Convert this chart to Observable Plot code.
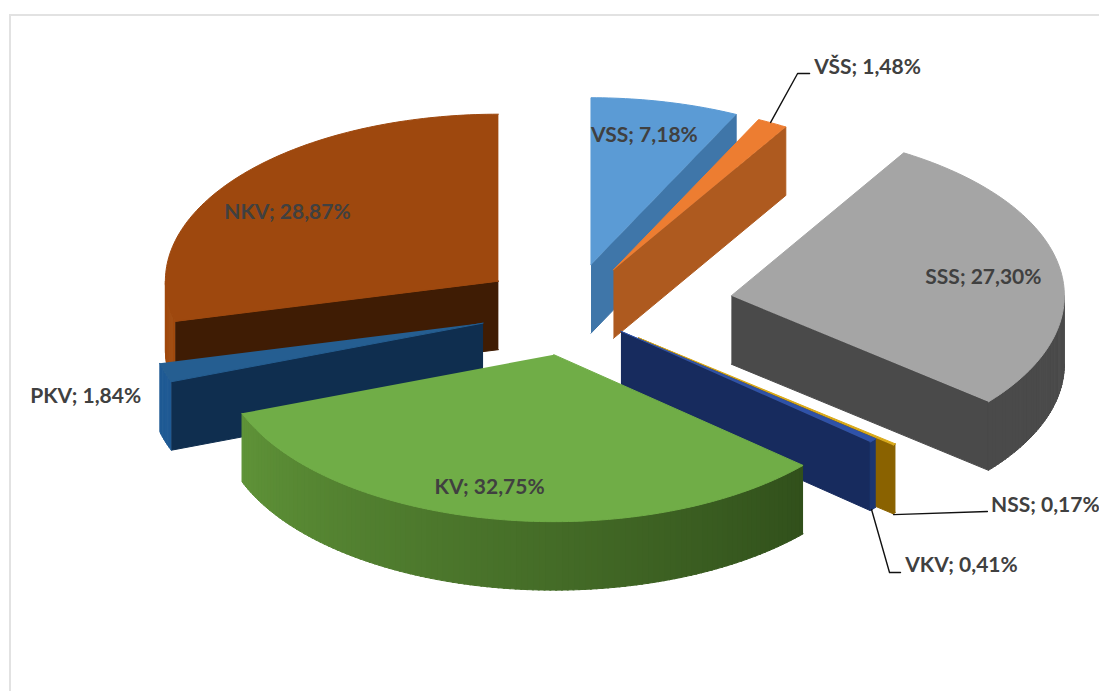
<!DOCTYPE html>
<html><head><meta charset="utf-8">
<script src="https://cdn.jsdelivr.net/npm/d3@7"></script>
<script src="https://cdn.jsdelivr.net/npm/@observablehq/plot@0.6"></script>
<style>
html,body{margin:0;padding:0;background:#fff;overflow:hidden}
#wrap{position:relative;width:1099px;height:691px;overflow:hidden}
#frame{position:absolute;left:9px;top:14px;right:-5px;bottom:-5px;border:2.5px solid #e2e2e2}
#chart{position:absolute;left:0;top:0}
svg{display:block}
</style></head><body>
<div id="wrap"><div id="frame"></div><div id="chart"></div></div>
<script>
// Data (clockwise from 12 o'clock)
const names   = ["VSS","VŠS","SSS","NSS","VKV","KV","PKV","NKV"];
const values  = [7.18,1.48,27.30,0.17,0.41,32.75,1.84,28.87];
// Slice explosion, as a fraction of the pie radius
const explode = [0.275,0.27,0.49,0.265,0.20,0.275,0.275,0.275];
// Colours
const topCol  = ["#5B9BD5","#ED7D31","#A5A5A5","#D8A818","#2F52A8","#70AD47","#255E91","#9E480E"];
const cutCol  = ["#3F76A9","#AE5A1F","#4A4A4A","#8A6200","#172B5E","#3A5A25","#0F2E4F","#3F1C04"];
const rindA   = ["#3F76A9","#ED7D31","#4A4A4A","#8A6200","#1B3672","#31501B","#1F5A94","#A04A0E"];
const rindB   = ["#3F76A9","#ED7D31","#4A4A4A","#8A6200","#1B3672","#5F9338","#1F5A94","#A04A0E"];
// Drawing order, back to front
const paintOrder = ["VSS","VŠS","NKV","SSS","NSS","VKV","PKV","KV"];
// Label anchors in pie-radius units
const labelX = [0.222,0.892,1.240,1.426,1.174,-0.243,-1.456,-0.850];
const labelY = [1.042,1.449,0.192,-1.174,-1.533,-1.066,-0.521,0.581];
// Leader lines in pie-radius units
const leaderName = ["VŠS","VŠS","VŠS","NSS","NSS","VKV","VKV","VKV"];
const leaderX = [0.601,0.682,0.718,0.970,1.252,0.904,0.958,0.991];
const leaderY = [1.120,1.413,1.413,-1.228,-1.210,-1.198,-1.575,-1.575];

const depth = 0.41; // thickness in pie-radius units
const fmt = v => v.toFixed(2).replace(".",",")+"%";
const arcs = d3.pie().sort(null).value(d=>d).startAngle(0).endAngle(2*Math.PI)(values);

const poly=[]; let pid=0;
const addPoly=(pts,c)=>{const id=pid++;pts.forEach(p=>poly.push({id,x:p[0],y:p[1],c}));};

paintOrder.forEach(nm=>{
  const i=names.indexOf(nm), a0=arcs[i].startAngle, a1=arcs[i].endAngle, m=(a0+a1)/2;
  const ox=explode[i]*Math.sin(m), oy=explode[i]*Math.cos(m);
  const P=(a,d=0)=>[ox+Math.sin(a),oy+Math.cos(a)-d];
  const apex=[ox,oy], apexD=[ox,oy-depth];
  // cut faces turned to the viewer
  if(a0>Math.PI) addPoly([apex,P(a0),P(a0,depth),apexD],cutCol[i]);
  if(a1<Math.PI) addPoly([apex,P(a1),P(a1,depth),apexD],cutCol[i]);
  // outer rim: only the part facing the viewer
  const r0=Math.max(a0,Math.PI/2), r1=Math.min(a1,1.5*Math.PI);
  if(r1>r0){
    const n=Math.max(2,Math.ceil((r1-r0)/(Math.PI/180)));
    const col=d3.interpolateRgb(rindA[i],rindB[i]);
    for(let k=0;k<n;k++){
      const u=r0+(r1-r0)*k/n,v=Math.min(r1,r0+(r1-r0)*(k+1.25)/n);
      addPoly([P(u),P(v),P(v,depth),P(u,depth)],d3.rgb(col((k+.5)/n)).formatHex());
    }
  }
  // top face
  const n=Math.max(2,Math.ceil((a1-a0)/(Math.PI/180)));
  const pts=[apex]; for(let k=0;k<=n;k++) pts.push(P(a0+(a1-a0)*k/n));
  addPoly(pts,topCol[i]);
});

const labels=names.map((n,i)=>({t:`${n}; ${fmt(values[i])}`,x:labelX[i],y:labelY[i]}));
const leaders=leaderName.map((n,i)=>({n,x:leaderX[i],y:leaderY[i]}));

const chart=Plot.plot({
  width:1099,height:691,margin:0,
  x:{domain:[-1,1],range:[237,903],axis:null},
  y:{domain:[-1,1],range:[476,142],axis:null},
  style:{background:"transparent",overflow:"visible"},
  marks:[
    Plot.line(poly,{x:"x",y:"y",z:"id",fill:"c",stroke:"c",strokeWidth:1,curve:"linear"}),
    Plot.line(leaders,{x:"x",y:"y",z:"n",stroke:"#111",strokeWidth:1.4,curve:"linear"}),
    Plot.text(labels,{x:"x",y:"y",text:"t",fill:"#404040",fontSize:21,fontWeight:700,fontFamily:"Lato",textAnchor:"middle"})
  ]
});
document.getElementById("chart").appendChild(chart);
</script>
</body></html>
